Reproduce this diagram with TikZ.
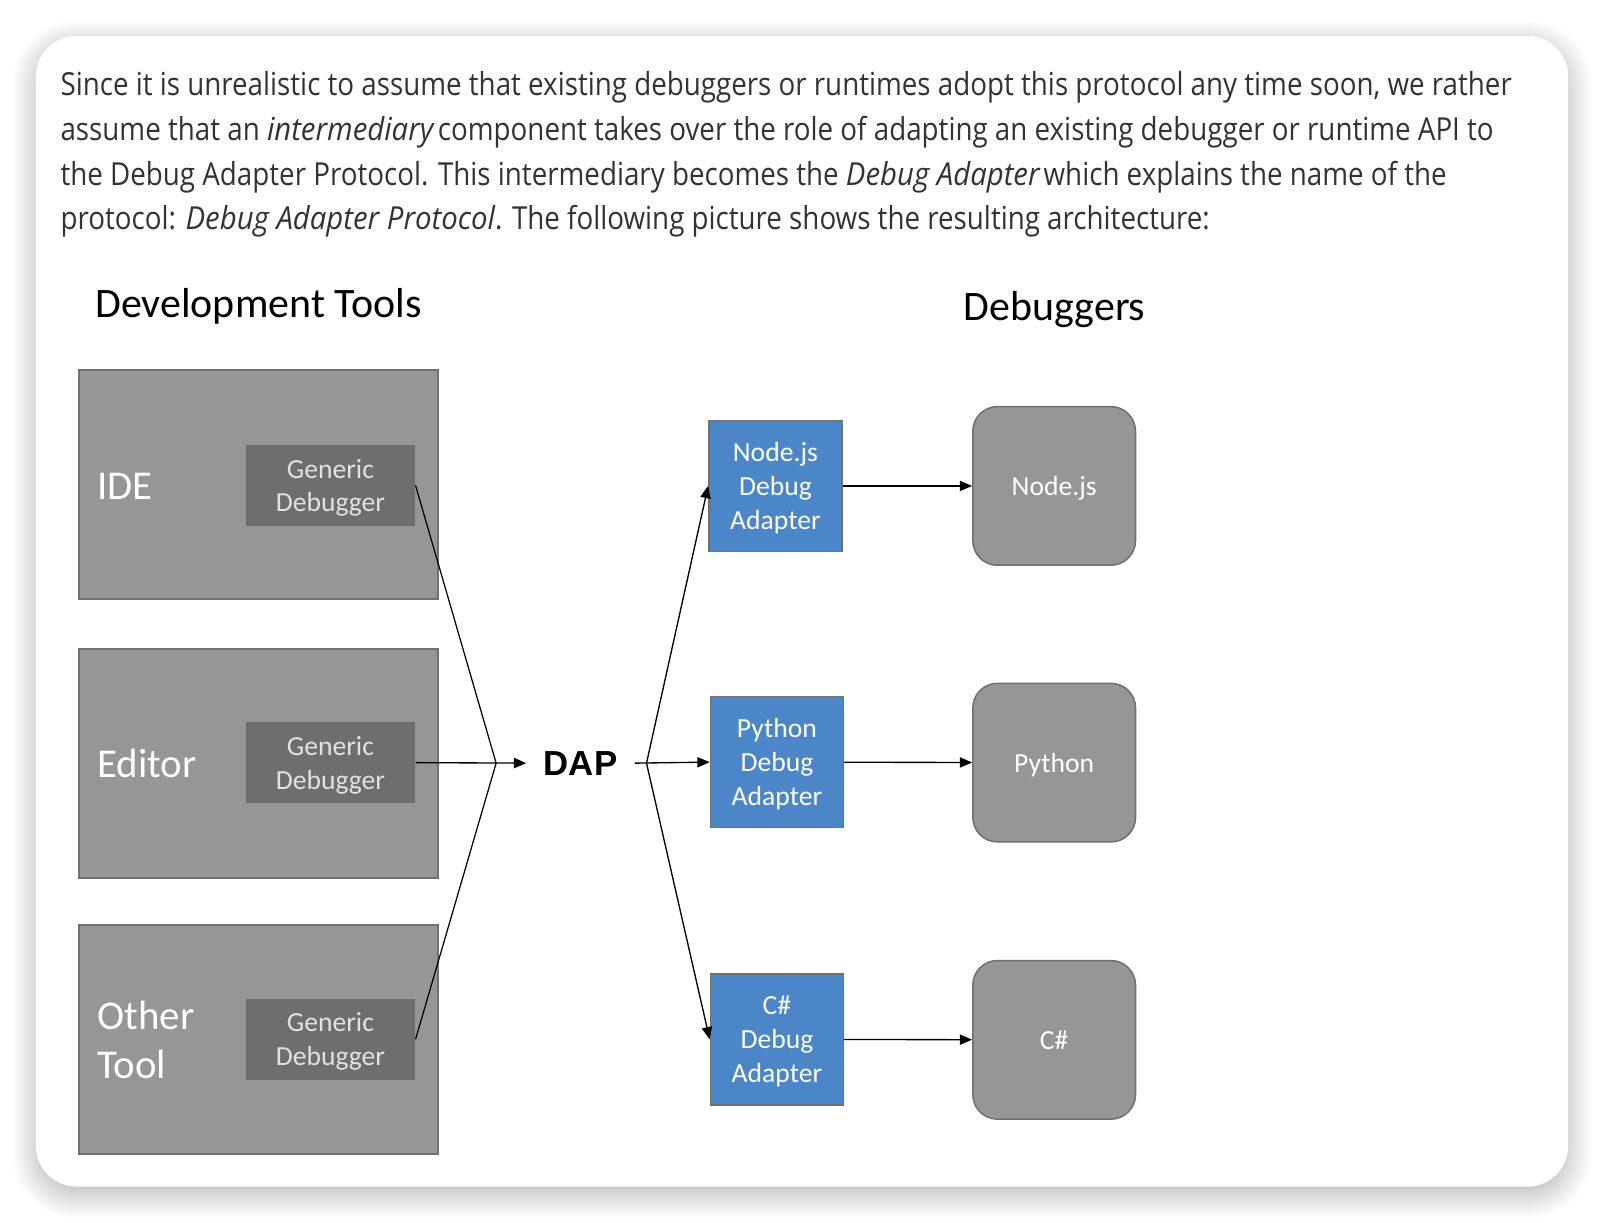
\documentclass[tikz,border=0pt]{standalone}
\usepackage{fontspec}
\setmainfont{Open Sans}
\newfontfamily\bodyfont[FakeStretch=0.875, ItalicFeatures={FakeStretch=0.925}]{Open Sans}
\newfontfamily\calfont{Carlito}
\newfontfamily\arialfont{Liberation Sans}
\usetikzlibrary{arrows.meta,shadows.blur}
\definecolor{boxgray}{RGB}{150,150,150}
\definecolor{boxedge}{RGB}{112,112,112}
\definecolor{gdfill}{RGB}{110,110,110}
\definecolor{gdtext}{RGB}{225,225,225}
\definecolor{blueda}{RGB}{74,134,200}
\definecolor{bodytext}{RGB}{51,51,51}
\newcommand{\itsp}{\hspace{-4pt}}
\begin{document}
\begin{tikzpicture}[x=1pt,y=-1pt,
 para/.style={anchor=base west, inner sep=0pt, text=bodytext, font=\bodyfont\fontsize{31}{40}\selectfont},
 heading/.style={anchor=base west, inner sep=0pt, font=\calfont\fontsize{41}{48}\selectfont},
 toolbox/.style={draw=boxedge, line width=2pt, fill=boxgray, minimum width=351pt, minimum height=224pt, inner sep=0pt},
 toollabel/.style={anchor=west, inner sep=0pt, text=white, align=left, font=\calfont\fontsize{40}{48}\selectfont},
 gdbox/.style={fill=gdfill, minimum width=166pt, minimum height=79pt, inner sep=0pt, align=center, text depth=0pt, text=gdtext, font=\calfont\fontsize{27}{33}\selectfont},
 dabox/.style={draw=boxedge, line width=1.5pt, fill=blueda, minimum width=130pt, minimum height=128pt, inner sep=0pt, align=center, text depth=0pt, text=white, font=\calfont\fontsize{27}{33}\selectfont},
 dbgbox/.style={draw=boxedge, line width=1.5pt, fill=boxgray, rounded corners=24pt, minimum width=159pt, minimum height=155pt, inner sep=0pt, text depth=0pt, text=white, font=\calfont\fontsize{27}{33}\selectfont},
 arr/.style={-{Triangle[length=12pt,width=10pt]}, line width=1.3pt, black},
 link/.style={line width=1.2pt, black}]
\useasboundingbox (0,0) rectangle (1568,1195);
% card
\fill[white, rounded corners=40pt, blur shadow={shadow xshift=0pt, shadow yshift=-8pt, shadow blur radius=24pt, shadow opacity=30, shadow blur steps=24}] (35,35) rectangle (1533,1160);
% paragraph
\node[para] (p1) at (59,93) {Since it is unrealistic to assume that existing debuggers or runtimes adopt this protocol any time soon, we rather};
\node[para] (p2) at (59,137) {assume that an \textit{intermediary} \itsp component takes over the role of adapting an existing debugger or runtime API to};
\node[para] (p3) at (59,181) {the Debug Adapter Protocol. This intermediary becomes the \textit{Debug Adapter} \itsp which explains the name of the};
\node[para] (p4) at (59,224) {protocol: \textit{Debug Adapter Protocol}. The following picture shows the resulting architecture:};
% headings
\node[heading] (hdev) at (93,310) {Development Tools};
\node[heading] (hdbg) at (942,313) {Debuggers};
% tool boxes
\node[toolbox] (ide) at (252.5,474) {};
\node[toolbox] (editor) at (252.5,746) {};
\node[toolbox] (other) at (252.5,1016.5) {};
\node[toollabel] (lide) at (95,475) {IDE};
\node[toollabel] (leditor) at (95,746) {Editor};
\node[toollabel] (lother) at (95,1017) {Other\\Tool};
\node[gdbox] (gd1) at (323,474.5) {Generic\\Debugger};
\node[gdbox] (gd2) at (323,745.5) {Generic\\Debugger};
\node[gdbox] (gd3) at (323,1016) {Generic\\Debugger};
% DAP
\node[inner xsep=17pt, inner ysep=0pt, font=\arialfont\bfseries\fontsize{34}{40}\selectfont] (dap) at (567.5,746) {DAP};
\coordinate (jl) at (485,746);
\coordinate (jr) at (632,746);
% adapters
\node[dabox] (da1) at (758,475) {Node.js\\Debug\\Adapter};
\node[dabox] (da2) at (759.5,745) {Python\\Debug\\Adapter};
\node[dabox] (da3) at (759.5,1016) {C\#\\Debug\\Adapter};
% debuggers
\node[dbgbox] (n1) at (1030.5,475) {Node.js};
\node[dbgbox] (n2) at (1030.5,745.5) {Python};
\node[dbgbox] (n3) at (1030.5,1016.5) {C\#};
% connectors
\draw[link] (gd1.east) -- (jl);
\draw[link] (gd3.east) -- (jl);
\draw[arr] (gd2.east) -- (dap.west);
\draw[arr] (dap.east) -- (da2.west);
\draw[arr] (jr) -- (da1.west);
\draw[arr] (jr) -- (da3.west);
\draw[arr] (da1) -- (n1);
\draw[arr] (da2) -- (n2);
\draw[arr] (da3) -- (n3);
\end{tikzpicture}
\end{document}
